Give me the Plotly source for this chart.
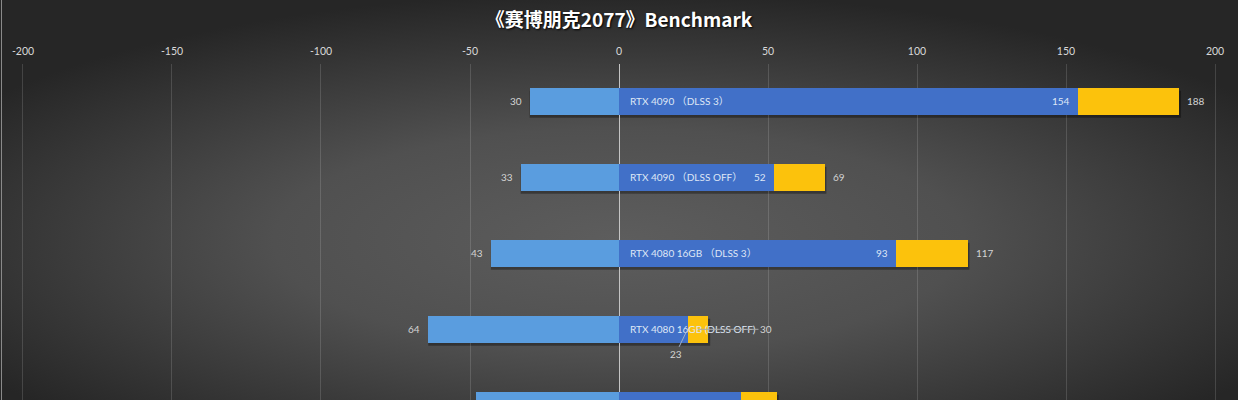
import base64
import plotly.graph_objects as go

# ---- data ----
categories = ["RTX 4090 （DLSS 3）", "RTX 4090 （DLSS OFF）", "RTX 4080 16GB （DLSS 3）",
              "RTX 4080 16GB (DLSS OFF)", "RTX 4080 12GB （DLSS 3）"]
left_vals = [30, 33, 43, 64, 48]
mid_vals = [154, 52, 93, 23, 41]
total_vals = [188, 69, 117, 30, 53]
tick_vals = [-200, -150, -100, -50, 0, 50, 100, 150, 200]
tick_text = ["-200", "-150", "-100", "-50", "0", "50", "100", "150", "200"]
title_text = "《赛博朋克2077》Benchmark"

FONT = "Lato, 'Noto Sans CJK SC', sans-serif"
W, H = 1238, 400
ML, MR, MT, MB = 20, 20, 64, 0
PW, PH = W - ML - MR, H - MT - MB

neg_vals = [-v for v in left_vals]
extra_vals = [t - m for t, m in zip(total_vals, mid_vals)]
BW = 0.355

fig = go.Figure()
fig.add_trace(go.Bar(y=categories, x=neg_vals, orientation="h", width=BW,
                     marker=dict(color="#5a9ddf", line=dict(width=0)), hoverinfo="skip"))
fig.add_trace(go.Bar(y=categories, x=mid_vals, orientation="h", width=BW,
                     marker=dict(color="#4170c8", line=dict(width=0)), hoverinfo="skip"))
fig.add_trace(go.Bar(y=categories, x=extra_vals, orientation="h", width=BW,
                     marker=dict(color="#fcc20c", line=dict(width=0)), hoverinfo="skip"))

ann = []
shapes = []
lab_font = dict(family=FONT, size=10, color="#d4d4d4")
in_font = dict(family=FONT, size=10, color="#dfe7f6")
for i, cat in enumerate(categories):
    # shadow
    shapes.append(dict(type="rect", xref="x", yref="y", x0=neg_vals[i], x1=total_vals[i] + 0.6,
                       y0=i - BW / 2 + 0.04, y1=i + BW / 2 + 0.04,
                       fillcolor="rgba(0,0,0,0.35)", line=dict(width=0), layer="below"))
    # left value
    ann.append(dict(x=neg_vals[i], y=cat, text=str(left_vals[i]), showarrow=False,
                    xanchor="right", xshift=-6, font=lab_font))
    # category name
    ann.append(dict(x=0, y=cat, text=cat, showarrow=False, xanchor="left", xshift=9,
                    font=in_font))
    if i == 3:
        ann.append(dict(x=mid_vals[i], y=cat, text=str(mid_vals[i]), showarrow=True,
                        arrowhead=0, arrowwidth=1, arrowcolor="#9fb0cc", ax=-12, ay=25,
                        standoff=2, font=lab_font))
        ann.append(dict(x=(mid_vals[i] + total_vals[i]) / 2, y=cat, text=str(total_vals[i]),
                        showarrow=True, arrowhead=0, arrowwidth=1, arrowcolor="#a8a8a8",
                        ax=68, ay=0, standoff=0, font=lab_font))
    else:
        ann.append(dict(x=mid_vals[i], y=cat, text=str(mid_vals[i]), showarrow=False,
                        xanchor="right", xshift=-6, font=in_font))
        ann.append(dict(x=total_vals[i], y=cat, text=str(total_vals[i]), showarrow=False,
                        xanchor="left", xshift=6, font=lab_font))

# left border line of chart area
shapes.append(dict(type="line", xref="paper", yref="paper", x0=(1.5 - ML) / PW, x1=(1.5 - ML) / PW,
                   y0=-0.1, y1=1 + MT / PH, line=dict(color="#8a8a8a", width=1)))

# gradient background (svg)
svg = f'''<svg xmlns="http://www.w3.org/2000/svg" width="{W}" height="{H}" viewBox="0 0 {W} {H}" preserveAspectRatio="none">
<defs><radialGradient id="g" cx="50%" cy="60%" r="62%">
<stop offset="0%" stop-color="#5d5d5d"/><stop offset="45%" stop-color="#505050"/>
<stop offset="100%" stop-color="#262626"/></radialGradient></defs>
<rect width="{W}" height="{H}" fill="url(#g)"/></svg>'''
src = "data:image/svg+xml;base64," + base64.b64encode(svg.encode()).decode()

fig.update_layout(
    width=W, height=H, barmode="relative", bargap=0,
    margin=dict(l=ML, r=MR, t=MT, b=MB),
    paper_bgcolor="#3c3c3c", plot_bgcolor="rgba(0,0,0,0)",
    showlegend=False,
    title=dict(text=title_text, x=0.5, xanchor="center", y=1 - 20 / H, yanchor="middle",
               font=dict(family="'Noto Sans CJK SC', Lato, sans-serif", size=19, color="#ffffff",
                         weight="bold", shadow="1px 1px 2px #000000")),
    images=[dict(source=src, xref="paper", yref="paper", x=-ML / PW, y=1 + MT / PH,
                 sizex=W / PW, sizey=H / PH, xanchor="left", yanchor="top",
                 sizing="stretch", layer="below")],
    xaxis=dict(range=[-201, 201], side="top", tickvals=tick_vals, ticktext=tick_text,
               showgrid=True, gridcolor="rgba(255,255,255,0.14)", gridwidth=1,
               zeroline=True, zerolinecolor="#c4c4c4", zerolinewidth=1.2,
               showline=False, ticks="", ticklabelstandoff=6,
               tickfont=dict(family=FONT, size=10.5, color="#d8d8d8"), fixedrange=True),
    yaxis=dict(range=[3.93, -0.49], showticklabels=False, showgrid=False, zeroline=False,
               showline=False, ticks="", fixedrange=True),
    annotations=ann, shapes=shapes,
)
fig.write_html("out.html", config={"displayModeBar": False},
               post_script="document.body.style.margin='0';document.body.style.padding='0';")
